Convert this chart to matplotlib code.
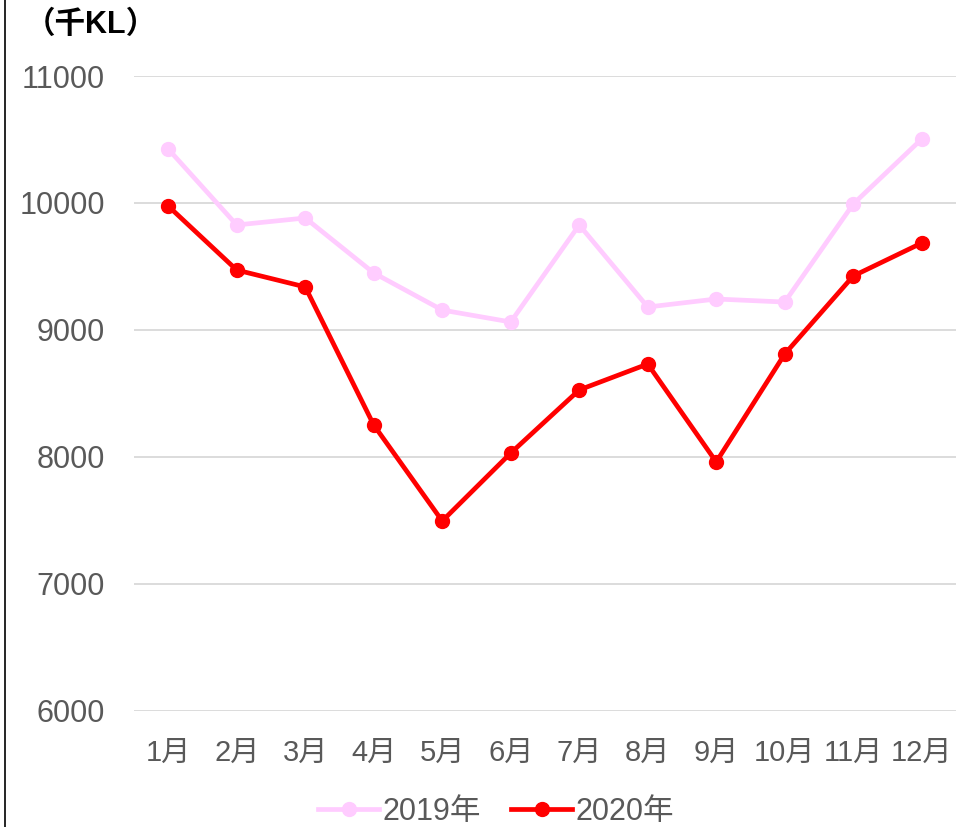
import matplotlib
matplotlib.use("Agg")
from matplotlib import pyplot as plt
from matplotlib.lines import Line2D

plt.rcParams['font.family'] = ['Liberation Sans', 'Noto Sans CJK JP', 'DejaVu Sans']

months = ['1月', '2月', '3月', '4月', '5月', '6月', '7月', '8月', '9月', '10月', '11月', '12月']
y2019 = [10425, 9827, 9882, 9449, 9157, 9063, 9827, 9181, 9244, 9220, 9992, 10504]
y2020 = [9976, 9472, 9339, 8252, 7496, 8031, 8528, 8732, 7961, 8811, 9425, 9685]
yticks = [6000, 7000, 8000, 9000, 10000, 11000]

fig = plt.figure(figsize=(9.61, 8.27), dpi=100)
ax = fig.add_axes([0.1394, 0.1403, 0.8554, 0.7678])

x = list(range(len(months)))
ax.plot(x, y2019, color='#FFCCFF', lw=3.4, marker='o', ms=10, label='2019年', zorder=3)
ax.plot(x, y2020, color='#FF0000', lw=3.4, marker='o', ms=10, label='2020年', zorder=4)

ax.set_xlim(-0.5, 11.5)
ax.set_ylim(6000, 11000)
ax.set_yticks(yticks)
ax.set_xticks(x)
ax.set_xticklabels(months)
ax.grid(axis='y', color='#D9D9D9', lw=1.3)
ax.set_axisbelow(True)
for s in ax.spines.values():
    s.set_visible(False)
ax.tick_params(axis='both', length=0, colors='#595959')
ax.tick_params(axis='y', pad=21, labelsize=22)
ax.tick_params(axis='x', pad=20, labelsize=21)

fig.text(0.026, 0.970, '（千KL）', fontsize=22, fontweight='bold', color='black', va='center', ha='left')

fig.legend(loc='center', bbox_to_anchor=(0.516, 0.018), ncol=2, frameon=False,
           fontsize=22, labelcolor='#595959', handlelength=2.0, columnspacing=1.0, handletextpad=0.1)

# left border line
fig.add_artist(Line2D([5 / 961, 5 / 961], [0, 1], color='black', lw=1.2, transform=fig.transFigure))

fig.savefig('out.png', dpi=100)
